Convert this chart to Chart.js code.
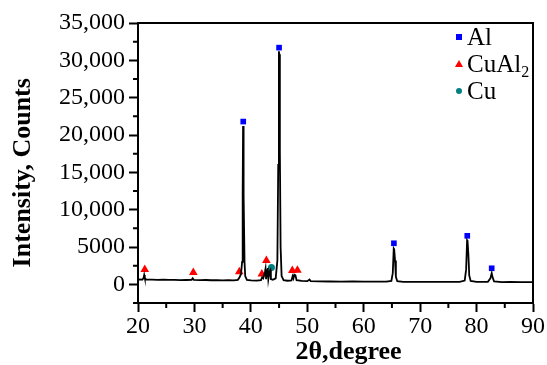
<!DOCTYPE html>
<html>
<head>
<meta charset="utf-8">
<script src="https://cdn.jsdelivr.net/npm/chart.js@4"></script>
<style>
  html, body { margin: 0; padding: 0; background: #fff; }
  #wrap { width: 547px; height: 365px; }
</style>
</head>
<body>
<div id="wrap"><canvas id="xrdChart" width="547" height="365"></canvas></div>
<script>
// XRD pattern: 2theta (degree) vs intensity (counts)
const twoTheta = [20.0, 20.8, 21.0, 21.1, 21.2, 21.4, 22.5, 23.5, 24.5, 25.5, 26.5, 27.5, 28.5, 29.5, 29.7, 29.9,
  31.0, 32.0, 33.0, 34.0, 35.0, 36.0, 37.0, 37.7, 38.0, 38.25, 38.45, 38.55, 38.62, 38.68, 38.75, 38.88, 39.0, 39.3,
  40.0, 41.0, 41.8, 42.0, 42.2, 42.5, 42.6, 42.7, 42.9, 43.0, 43.1, 43.3, 43.45, 43.55, 43.9, 44.4, 44.7, 44.85,
  44.97, 45.04, 45.14, 45.27, 45.45, 45.8, 46.5, 47.2, 47.4, 47.55, 47.7, 47.9, 48.1, 49.0, 50.0, 50.4, 50.6, 52.0,
  54.0, 56.0, 58.0, 60.0, 62.0, 64.0, 64.9, 65.15, 65.32, 65.4, 65.55, 65.7, 65.95, 67.0, 69.0, 71.0, 73.0, 75.0, 77.0,
  77.9, 78.15, 78.32, 78.4, 78.55, 78.7, 78.95, 80.0, 82.0, 82.45, 82.68, 82.85, 83.1, 84.5, 86.0, 88.0, 90.0];
const counts = [650, 640, 880, 1250, 880, 640, 620, 600, 630, 590, 600, 570, 580, 600, 800, 590,
  560, 580, 550, 560, 540, 550, 540, 600, 950, 1350, 3000, 12000, 21200, 21000, 12000, 3000, 1100, 600,
  520, 510, 560, 950, 800, 1700, 2100, 700, 1900, 2200, 700, 1700, 1900, 700, 600, 800, 3200, 16000,
  31200, 30800, 18000, 5000, 1100, 560, 480, 520, 1100, 800, 1300, 1200, 550, 450, 420, 650, 420, 400,
  380, 370, 380, 350, 360, 350, 450, 1500, 4800, 4700, 3200, 1000, 420, 340, 330, 340, 320, 330, 320,
  500, 2000, 5900, 5800, 4000, 1200, 450, 320, 340, 800, 1500, 900, 400, 300, 320, 300, 300];

// phase markers
const alX = [38.65, 45.0, 65.35, 78.35, 82.68];
const alY = [21800, 31700, 5500, 6500, 2150];
const cuAl2X = [21.2, 29.8, 37.95, 41.95, 42.75, 47.35, 48.25];
const cuAl2Y = [2000, 1600, 1700, 1400, 3200, 1850, 1900];
const cuX = [43.65];
const cuY = [2250];

const yTicks = [0, 5000, 10000, 15000, 20000, 25000, 30000, 35000];
const yMinor = [-2500, 2500, 7500, 12500, 17500, 22500, 27500, 32500];
const xTicks = [20, 30, 40, 50, 60, 70, 80, 90];
const xMinor = [25, 35, 45, 55, 65, 75, 85];

const legendItems = [
  { text: 'Al', sub: '', color: '#0000ff', style: 'rect' },
  { text: 'CuAl', sub: '2', color: '#ff0000', style: 'triangle' },
  { text: 'Cu', sub: '', color: '#008080', style: 'circle' }
];

const toPts = (xs, ys) => xs.map((x, i) => ({ x: x, y: ys[i] }));
const serif = '"Liberation Serif", "Times New Roman", serif';

// box on top/right, minor ticks, legend
const extras = {
  id: 'extras',
  afterDraw(chart) {
    const ctx = chart.ctx;
    const a = chart.chartArea;
    const xs = chart.scales.x, ys = chart.scales.y;
    ctx.save();
    ctx.strokeStyle = '#000';
    ctx.lineWidth = 2;
    ctx.beginPath();
    ctx.moveTo(a.left, a.top);
    ctx.lineTo(a.right, a.top);
    ctx.lineTo(a.right, a.bottom);
    ctx.stroke();
    ctx.beginPath();
    xMinor.forEach(v => {
      const px = xs.getPixelForValue(v);
      ctx.moveTo(px, a.bottom);
      ctx.lineTo(px, a.bottom + 5);
    });
    yMinor.forEach(v => {
      const py = ys.getPixelForValue(v);
      ctx.moveTo(a.left, py);
      ctx.lineTo(a.left - 5, py);
    });
    ctx.stroke();

    // legend
    let ly = 37;
    legendItems.forEach(it => {
      const mx = 459;
      ctx.fillStyle = it.color;
      ctx.beginPath();
      if (it.style === 'rect') {
        ctx.rect(mx - 3, ly - 3, 6, 6);
      } else if (it.style === 'triangle') {
        ctx.moveTo(mx, ly - 4);
        ctx.lineTo(mx + 4, ly + 3);
        ctx.lineTo(mx - 4, ly + 3);
        ctx.closePath();
      } else {
        ctx.arc(mx, ly, 3, 0, Math.PI * 2);
      }
      ctx.fill();
      ctx.fillStyle = '#000';
      ctx.font = '25px ' + serif;
      ctx.textBaseline = 'middle';
      ctx.textAlign = 'left';
      ctx.fillText(it.text, 467, ly + 1);
      if (it.sub) {
        const w = ctx.measureText(it.text).width;
        ctx.font = '16px ' + serif;
        ctx.fillText(it.sub, 467 + w, ly + 9);
      }
      ly += 27;
    });
    ctx.restore();
  }
};

new Chart(document.getElementById('xrdChart'), {
  type: 'scatter',
  data: {
    datasets: [
      {
        label: 'XRD',
        data: toPts(twoTheta, counts),
        showLine: true,
        borderColor: '#000',
        borderWidth: 1.8,
        pointRadius: 0,
        tension: 0
      },
      {
        label: 'Al',
        data: toPts(alX, alY),
        pointStyle: 'rect',
        pointRadius: 4,
        backgroundColor: '#0000ff',
        borderColor: '#0000ff',
        borderWidth: 0
      },
      {
        label: 'CuAl2',
        data: toPts(cuAl2X, cuAl2Y),
        pointStyle: 'triangle',
        pointRadius: 5,
        backgroundColor: '#ff0000',
        borderColor: '#ff0000',
        borderWidth: 0
      },
      {
        label: 'Cu',
        data: toPts(cuX, cuY),
        pointStyle: 'circle',
        pointRadius: 3.5,
        backgroundColor: '#008080',
        borderColor: '#008080',
        borderWidth: 0
      }
    ]
  },
  options: {
    responsive: false,
    animation: false,
    layout: { padding: { left: 5, top: 23, right: 14, bottom: 0 } },
    plugins: {
      legend: { display: false },
      tooltip: { enabled: false }
    },
    scales: {
      x: {
        type: 'linear',
        min: 20,
        max: 90,
        afterBuildTicks: s => { s.ticks = xTicks.map(v => ({ value: v })); },
        afterFit: s => { s.height = 62; },
        grid: { drawOnChartArea: false, tickLength: 9, tickColor: '#000', tickWidth: 2 },
        border: { display: true, color: '#000', width: 2 },
        ticks: { color: '#000', font: { family: serif, size: 24 }, padding: 0, maxRotation: 0 },
        title: {
          display: true,
          text: '    2θ,degree',
          color: '#000',
          font: { family: serif, size: 26, weight: 'bold', lineHeight: 1 },
          padding: { top: 0, bottom: 0 }
        }
      },
      y: {
        min: -2500,
        max: 35000,
        afterBuildTicks: s => { s.ticks = yTicks.map(v => ({ value: v })); },
        afterFit: s => { s.width = 133; },
        grid: { drawOnChartArea: false, tickLength: 9, tickColor: '#000', tickWidth: 2 },
        border: { display: true, color: '#000', width: 2 },
        ticks: {
          color: '#000',
          font: { family: serif, size: 24 },
          padding: 4,
          callback: v => v >= 10000 ? v.toLocaleString('en-US') : String(v)
        },
        title: {
          display: true,
          text: 'Intensity, Counts   ',
          color: '#000',
          font: { family: serif, size: 26, weight: 'bold' },
          padding: { top: 3, bottom: 0 }
        }
      }
    }
  },
  plugins: [extras]
});
</script>
</body>
</html>
